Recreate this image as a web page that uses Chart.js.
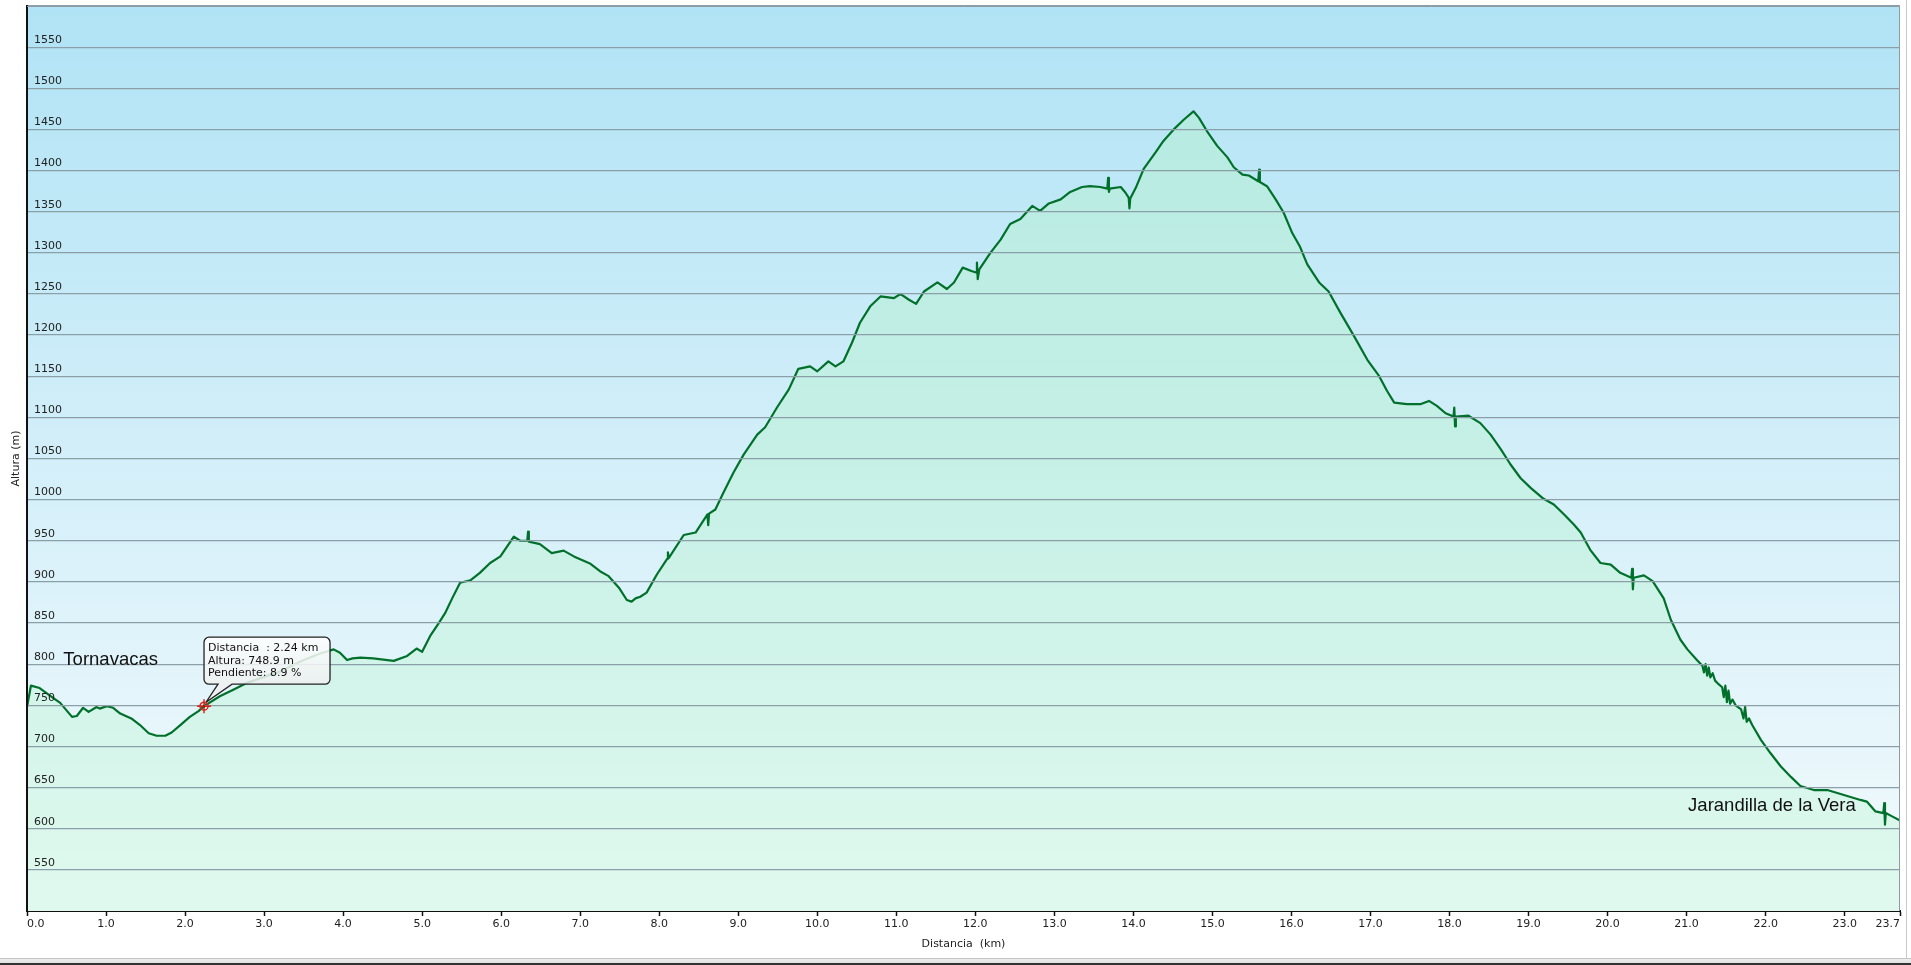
<!DOCTYPE html>
<html>
<head>
<meta charset="utf-8">
<title>Perfil Tornavacas - Jarandilla de la Vera</title>
<script src="https://cdn.jsdelivr.net/npm/chart.js@4.4.1/dist/chart.umd.min.js"></script>
<style>
  html, body { margin: 0; padding: 0; background: #fff; }
  #wrap { position: relative; width: 1911px; height: 965px; overflow: hidden; }
  #wrap canvas { position: absolute; left: 0; top: 0; }
  .frame-r { position: absolute; left: 1906px; top: 0; width: 1px; height: 958px; background: #c9c9c9; }
  .frame-b { position: absolute; left: 0; top: 958px; width: 1911px; height: 7px;
             background: linear-gradient(#c4c4c4 0, #c4c4c4 1px, #ededed 1px, #e2e2e2 5px, #333 5px); }
</style>
</head>
<body>
<div id="wrap">
  <canvas id="profileChart" width="1911" height="965"></canvas>
  <div class="frame-r"></div>
  <div class="frame-b"></div>
</div>
<script>
// Track profile: distance (km) and altitude (m)
const distKm = [
  0.00, 0.05, 0.16, 0.33, 0.42, 0.57, 0.63, 0.71, 0.78, 0.88, 0.92, 1.01, 1.09, 1.18, 1.32, 1.43,
  1.54, 1.64, 1.75, 1.83, 1.94, 2.06, 2.17, 2.24, 2.44, 2.61, 2.78, 2.95, 3.20, 3.50, 3.71, 3.88,
  3.96, 4.05, 4.12, 4.22, 4.38, 4.64, 4.81, 4.93, 5.00, 5.10, 5.21, 5.29, 5.38, 5.48, 5.61, 5.73,
  5.86, 5.99, 6.16, 6.24, 6.33, 6.34, 6.35, 6.49, 6.64, 6.79, 6.92, 7.13, 7.25, 7.36, 7.49, 7.59,
  7.65, 7.70, 7.76, 7.84, 7.97, 8.10, 8.11, 8.12, 8.31, 8.46, 8.61, 8.62, 8.63, 8.71, 8.81, 8.94,
  9.07, 9.24, 9.34, 9.49, 9.64, 9.76, 9.91, 10.00, 10.14, 10.23, 10.33, 10.44, 10.54, 10.67, 10.80, 10.97,
  11.05, 11.16, 11.25, 11.35, 11.52, 11.64, 11.73, 11.84, 11.95, 12.01, 12.02, 12.03, 12.05, 12.19, 12.32, 12.44,
  12.57, 12.72, 12.82, 12.93, 13.08, 13.20, 13.35, 13.45, 13.58, 13.67, 13.68, 13.69, 13.70, 13.84, 13.90, 13.94,
  13.95, 13.96, 14.03, 14.13, 14.28, 14.38, 14.51, 14.64, 14.76, 14.83, 14.93, 15.06, 15.19, 15.27, 15.38, 15.46,
  15.58, 15.59, 15.60, 15.69, 15.80, 15.90, 16.01, 16.11, 16.20, 16.35, 16.47, 16.62, 16.79, 16.96, 17.11, 17.21,
  17.30, 17.46, 17.63, 17.74, 17.84, 17.95, 18.05, 18.06, 18.07, 18.08, 18.24, 18.39, 18.52, 18.65, 18.77, 18.90,
  19.03, 19.19, 19.32, 19.45, 19.57, 19.66, 19.78, 19.91, 20.04, 20.16, 20.30, 20.31, 20.32, 20.33, 20.46, 20.57,
  20.71, 20.80, 20.92, 21.01, 21.13, 21.20, 21.22, 21.24, 21.26, 21.28, 21.30, 21.33, 21.36, 21.39, 21.45, 21.47,
  21.49, 21.51, 21.53, 21.55, 21.58, 21.62, 21.69, 21.72, 21.74, 21.76, 21.79, 21.83, 21.94, 22.06, 22.19, 22.32,
  22.44, 22.61, 22.78, 22.99, 23.20, 23.28, 23.39, 23.49, 23.50, 23.51, 23.52, 23.60, 23.70
];
const altM = [
  748, 774, 771, 759, 753, 736, 737, 747, 742, 748, 746, 749, 747, 740, 734, 726,
  716, 713, 713, 717, 726, 736, 743, 749, 761, 769, 777, 783, 791, 805, 813, 818,
  814, 805, 807, 808, 807, 804, 810, 819, 815, 834, 850, 862, 880, 899, 902, 911,
  923, 931, 955, 950, 950, 961, 949, 946, 935, 938, 931, 922, 913, 907, 893, 878,
  876, 880, 882, 887, 909, 928, 936, 929, 957, 960, 982, 969, 983, 988, 1008, 1033,
  1055, 1079, 1088, 1112, 1134, 1159, 1162, 1156, 1168, 1162, 1168, 1191, 1215, 1235, 1247, 1245,
  1250, 1243, 1238, 1253, 1264, 1256, 1264, 1282, 1278, 1276, 1288, 1268, 1280, 1300, 1316, 1335,
  1341, 1357, 1351, 1360, 1365, 1374, 1380, 1381, 1380, 1378, 1391, 1374, 1378, 1380, 1373, 1367,
  1354, 1366, 1379, 1402, 1422, 1436, 1450, 1462, 1472, 1464, 1448, 1430, 1416, 1404, 1395, 1394,
  1387, 1401, 1386, 1381, 1365, 1349, 1324, 1307, 1286, 1264, 1253, 1227, 1199, 1170, 1150, 1132,
  1118, 1116, 1116, 1120, 1114, 1105, 1101, 1112, 1089, 1101, 1102, 1093, 1079, 1061, 1043, 1026,
  1014, 1001, 994, 982, 970, 960, 939, 923, 921, 911, 905, 916, 891, 905, 908, 901,
  880, 854, 830, 818, 805, 798, 790, 800, 786, 796, 784, 789, 780, 777, 772, 760,
  774, 754, 768, 752, 757, 750, 745, 734, 748, 730, 734, 726, 708, 692, 676, 663,
  652, 647, 647, 641, 635, 633, 621, 619, 631, 605, 619, 615, 610
];

// Axis ticks
const xTicks = [0, 1, 2, 3, 4, 5, 6, 7, 8, 9, 10, 11, 12, 13, 14, 15, 16, 17, 18, 19, 20, 21, 22, 23, 23.7];
const yMin = 500;
const yMax = 1600;
const yStep = 50;

// Cursor shown on the profile
const cursorKm = 2.24;
const cursorAlt = 748.9;
const cursorSlope = 8.9;

const tickFont = { family: '"DejaVu Sans", Verdana, sans-serif', size: 11 };

// Plot area background (blue sky gradient) and frame
const plotBackground = {
  id: 'plotBackground',
  beforeDraw(chart) {
    const { ctx, chartArea: a } = chart;
    const g = ctx.createLinearGradient(0, a.top, 0, a.bottom);
    g.addColorStop(0, '#b0e3f5');
    g.addColorStop(0.5, '#d3eff9');
    g.addColorStop(1, '#f3fafc');
    ctx.save();
    ctx.fillStyle = g;
    ctx.fillRect(a.left, a.top, a.right - a.left, a.bottom - a.top);
    ctx.restore();
  },
  afterDraw(chart) {
    const { ctx, chartArea: a } = chart;
    ctx.save();
    ctx.strokeStyle = '#8d9ca2';
    ctx.lineWidth = 1;
    ctx.beginPath();
    ctx.moveTo(a.left, a.top + 0.5);
    ctx.lineTo(a.right - 0.5, a.top + 0.5);
    ctx.lineTo(a.right - 0.5, a.bottom);
    ctx.stroke();
    ctx.restore();
  }
};

// Place names and the cursor callout
const profileNotes = {
  id: 'profileNotes',
  afterDraw(chart) {
    const { ctx } = chart;
    const xs = chart.scales.x, ys = chart.scales.y;
    ctx.save();

    // start / end place names
    ctx.font = '18.5px "Liberation Sans", Arial, sans-serif';
    ctx.fillStyle = '#111';
    ctx.textBaseline = 'middle';
    ctx.textAlign = 'left';
    ctx.fillText('Tornavacas', xs.getPixelForValue(0.46), ys.getPixelForValue(805));
    ctx.textAlign = 'right';
    ctx.fillText('Jarandilla de la Vera', xs.getPixelForValue(23.14), ys.getPixelForValue(628));

    // callout box
    const px = xs.getPixelForValue(cursorKm);
    const py = ys.getPixelForValue(cursorAlt);
    const bx = px, by = py - 69, bw = 126, bh = 47, r = 5;
    ctx.beginPath();
    ctx.moveTo(bx + r, by);
    ctx.lineTo(bx + bw - r, by);
    ctx.arcTo(bx + bw, by, bx + bw, by + r, r);
    ctx.lineTo(bx + bw, by + bh - r);
    ctx.arcTo(bx + bw, by + bh, bx + bw - r, by + bh, r);
    ctx.lineTo(bx + 28, by + bh);
    ctx.lineTo(px + 2, py - 4);
    ctx.lineTo(bx + 14, by + bh);
    ctx.lineTo(bx + r, by + bh);
    ctx.arcTo(bx, by + bh, bx, by + bh - r, r);
    ctx.lineTo(bx, by + r);
    ctx.arcTo(bx, by, bx + r, by, r);
    ctx.closePath();
    const bg = ctx.createLinearGradient(0, by, 0, by + bh);
    bg.addColorStop(0, 'rgba(255,255,255,0.86)');
    bg.addColorStop(1, 'rgba(238,240,240,0.86)');
    ctx.fillStyle = bg;
    ctx.fill();
    ctx.strokeStyle = '#222';
    ctx.lineWidth = 1.3;
    ctx.stroke();

    ctx.font = '11px "DejaVu Sans", Verdana, sans-serif';
    ctx.fillStyle = '#111';
    ctx.textAlign = 'left';
    ctx.textBaseline = 'middle';
    ctx.fillText('Distancia  : ' + cursorKm.toFixed(2) + ' km', bx + 4, by + 11);
    ctx.fillText('Altura: ' + cursorAlt.toFixed(1) + ' m', bx + 4, by + 24);
    ctx.fillText('Pendiente: ' + cursorSlope.toFixed(1) + ' %', bx + 4, by + 36);

    // cursor marker
    ctx.strokeStyle = '#d8261e';
    ctx.lineWidth = 1.5;
    ctx.beginPath();
    ctx.arc(px, py, 4, 0, Math.PI * 2);
    ctx.moveTo(px - 7, py); ctx.lineTo(px + 7, py);
    ctx.moveTo(px, py - 7); ctx.lineTo(px, py + 7);
    ctx.stroke();
    ctx.fillStyle = '#a01010';
    ctx.beginPath();
    ctx.arc(px, py, 1.3, 0, Math.PI * 2);
    ctx.fill();

    ctx.restore();
  }
};

const ctxProfile = document.getElementById('profileChart').getContext('2d');
new Chart(ctxProfile, {
  type: 'line',
  data: {
    datasets: [{
      label: 'Altura',
      data: distKm.map((d, i) => ({ x: d, y: altM[i] })),
      borderColor: '#00702a',
      borderWidth: 2.2,
      borderJoinStyle: 'round',
      pointRadius: 0,
      tension: 0,
      fill: 'start',
      backgroundColor: ctx => {
        const a = ctx.chart.chartArea;
        if (!a) return '#c6f0e6';
        const g = ctx.chart.ctx.createLinearGradient(0, a.top, 0, a.bottom);
        g.addColorStop(0, '#b2e9e0');
        g.addColorStop(0.5, '#c6f0e6');
        g.addColorStop(1, '#e0f9ee');
        return g;
      }
    }]
  },
  options: {
    responsive: false,
    animation: false,
    layout: { padding: { left: 6, top: 6, right: 11, bottom: 10 } },
    plugins: {
      legend: { display: false },
      tooltip: { enabled: false }
    },
    scales: {
      x: {
        type: 'linear',
        min: 0,
        max: 23.7,
        afterBuildTicks: s => { s.ticks = xTicks.map(v => ({ value: v })); },
        afterFit: s => { s.height = 44; s.paddingLeft = 0; s.paddingRight = 0; },
        ticks: {
          font: tickFont,
          color: '#222',
          padding: 2,
          maxRotation: 0,
          autoSkip: false,
          align: 'inner',
          callback: v => Number(v).toFixed(1)
        },
        grid: { drawOnChartArea: false, drawTicks: true, tickLength: 5, tickColor: '#111', tickWidth: 1.5 },
        border: { color: '#111', width: 2 },
        title: {
          display: true,
          text: 'Distancia  (km)',
          font: tickFont,
          color: '#222',
          padding: { top: 6, bottom: 4 }
        }
      },
      y: {
        min: yMin,
        max: yMax,
        afterFit: s => { s.width = 21; s.paddingTop = 0; s.paddingBottom = 0; },
        ticks: {
          z: 1,
          stepSize: yStep,
          mirror: true,
          padding: 7,
          labelOffset: -7,
          font: tickFont,
          color: '#222',
          callback: v => (v <= yMin || v >= yMax) ? '' : String(v)
        },
        grid: {
          z: 1,
          drawTicks: false,
          lineWidth: 1.2,
          color: c => (c.tick && c.tick.value === yMin) ? 'rgba(0,0,0,0)' : '#8a9fa7'
        },
        border: { z: 1, color: '#111', width: 2 },
        title: {
          display: true,
          text: 'Altura (m)',
          font: tickFont,
          color: '#222',
          padding: { top: 4, bottom: 4 }
        }
      }
    }
  },
  plugins: [plotBackground, profileNotes]
});
</script>
</body>
</html>
